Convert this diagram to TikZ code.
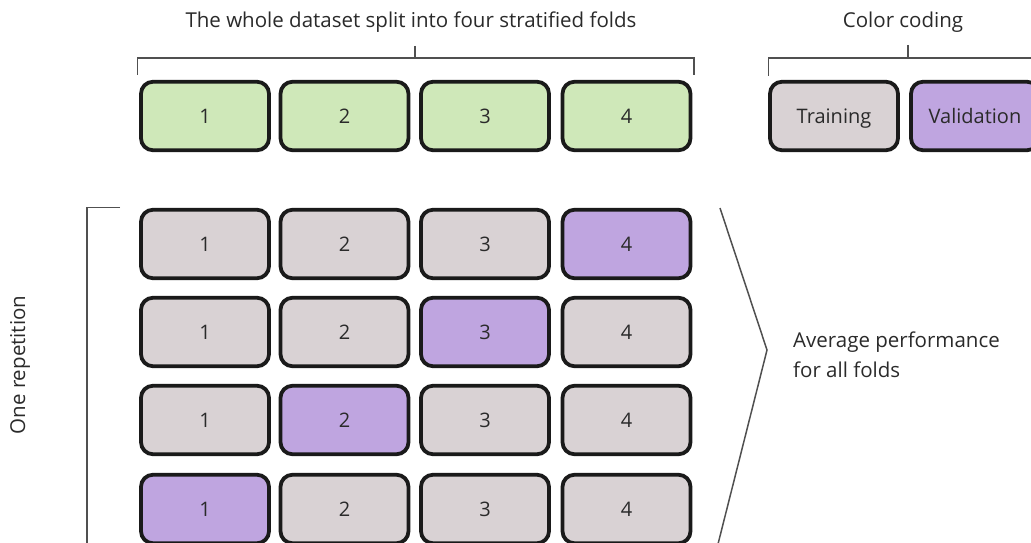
\documentclass[tikz,border=0pt]{standalone}
\usepackage{fontspec}
\setmainfont{Open Sans}
\definecolor{foldgreen}{HTML}{CFE8B9}
\definecolor{traingray}{HTML}{D9D2D4}
\definecolor{valpurple}{HTML}{BFA5E0}
\definecolor{edgedark}{HTML}{1A1A1A}
\definecolor{txt}{HTML}{2A2A2A}
\definecolor{brk}{HTML}{505050}
\tikzset{
  fold/.style={draw=edgedark, line width=3.8pt, rounded corners=12pt,
    minimum width=128pt, minimum height=68.5pt, inner sep=0pt,
    text height=14.5pt, text depth=0pt,
    text=txt, font=\fontsize{20}{24}\selectfont},
  gfold/.style={fold, fill=foldgreen},
  tfold/.style={fold, fill=traingray},
  vfold/.style={fold, fill=valpurple},
  lbl/.style={text=txt, font=\fontsize{20.5}{30}\selectfont, inner sep=0pt},
  brack/.style={draw=brk, line width=1.5pt},
}
\begin{document}
\begin{tikzpicture}[x=1pt,y=-1pt]
\useasboundingbox (0,0) rectangle (1031,543);
\clip (0,0) rectangle (1031,543);
% title row
\node[lbl] (title) at (411,22) {The whole dataset split into four stratified folds};
\node[lbl] (cctitle) at (903,22) {Color coding};
% top folds
\foreach \i/\x in {1/205,2/344.5,3/485,4/626.5}{
  \node[gfold] (t\i) at (\x,116) {\i};
}
% legend
\node[tfold] (train) at (834,116) {Training};
\node[vfold] (valid) at (975,116) {Validation};
% brackets on top
\coordinate (bl) at (137.5,75);
\coordinate (br) at (694,75);
\coordinate (bc) at (415,46);
\draw[brack] (bl) -- (137.5,58) -- (694,58) -- (br);
\draw[brack] (bc) -- (415,58);
\coordinate (cl) at (768.5,76);
\coordinate (cc) at (908,45);
\draw[brack] (cl) -- (768.5,58) -- (1035,58);
\draw[brack] (cc) -- (908,58);
% rows
\foreach \r/\y/\v in {1/244/4,2/332/3,3/420/2,4/509/1}{
  \foreach \i/\x in {1/205,2/344.5,3/485,4/626.5}{
    \ifnum\i=\v
      \node[vfold] (r\r c\i) at (\x,\y) {\i};
    \else
      \node[tfold] (r\r c\i) at (\x,\y) {\i};
    \fi
  }
}
% left bracket
\coordinate (lt) at (120,207.5);
\coordinate (lb) at (87,548);
\draw[brack] (lt) -- (87,207.5) -- (lb);
\node[lbl, rotate=90] (rep) at (20,365) {One repetition};
% right chevron
\coordinate (ct) at (720,208);
\coordinate (cm) at (767,350);
\coordinate (cb) at (717,548);
\draw[brack] (ct) -- (cm) -- (cb);
\node[lbl, anchor=west, align=left] (avg) at (793,355) {Average performance\\for all folds};
\end{tikzpicture}
\end{document}
